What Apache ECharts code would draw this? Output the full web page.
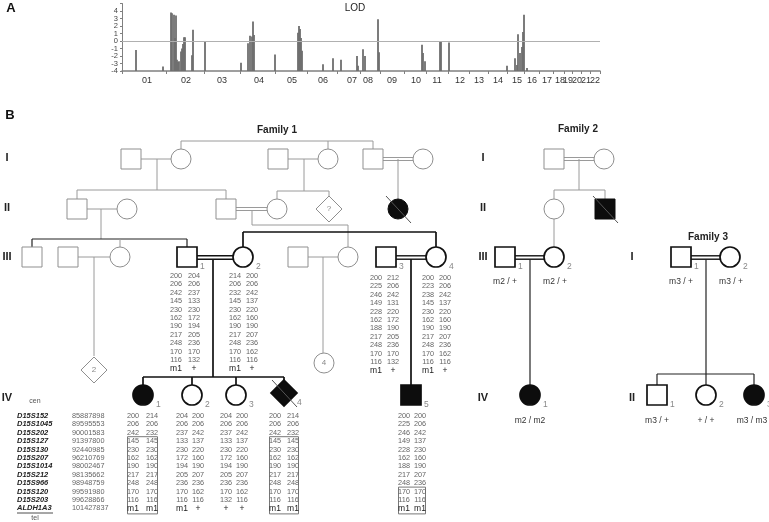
<!DOCTYPE html>
<html><head><meta charset="utf-8">
<script src="https://cdn.jsdelivr.net/npm/echarts@6/dist/echarts.min.js"></script>
<style>html,body{margin:0;padding:0;background:#fff}#c{width:769px;height:522px}</style>
</head><body><div id="c"></div>
<script>
// ---------- Panel A data: genome-wide LOD ----------
const chromLabels = ['01','02','03','04','05','06','07','08','09','10','11','12','13','14','15','16','17','18','19','20','21','22'];
const chromLabelPos = [25,64,100,137,170,201,230,246,270,294,315,338,357,376,395,410,425,438,446,455,464,473];
const chromBounds = [0,44,82,118,153,185,215,238,258,282,304,326,347,366,385,402,417,431,442,450,459,468,478];
const lodTicks = [-4,-3,-2,-1,0,1,2,3,4];
const lodPos = [14,41,49,50,52,53,54,55,56,57,59,60,61,62,63,70,71,83,119,126,128,130,131,132,153,176,177,178,179,180,201,211,219,235,236,241,243,256,257,300,301,303,318,319,327,385,393,395,396,398,400,401,402,405];
const lodVal = [-1.2,-3.4,3.8,3.7,3.5,0.4,3.4,-2.5,-2.8,-2.7,-1.4,-1.0,-0.4,0.5,0.5,-1.9,1.5,0.0,-2.9,-0.3,0.7,0.6,2.6,0.8,-1.8,1.1,2.0,1.6,0.4,-1.3,-3.1,-2.3,-2.5,-2.0,-3.3,-1.1,-2.0,2.9,-1.5,-0.5,-1.6,-2.7,-0.1,0.0,-0.2,-3.3,-2.3,-3.2,0.9,-1.6,-0.8,1.2,3.5,-3.6];

// ---------- Panel B data: markers and haplotypes ----------
const markers = ['D15S152','D15S1045','D15S202','D15S127','D15S130','D15S207','D15S1014','D15S212','D15S966','D15S120','D15S203','ALDH1A3'];
const markerBp = ['85887898','89595553','90001583','91397800','92440985','96210769','98002467','98135662','98948759','99591980','99628866','101427837'];
const hapF1_III1 = [['200','206','242','145','230','162','190','217','248','170','116','m1'],['204','206','237','133','230','172','194','205','236','170','132','+']];
const hapF1_III2 = [['214','206','232','145','230','162','190','217','248','170','116','m1'],['200','206','242','137','220','160','190','207','236','162','116','+']];
const hapF1_III3 = [['200','225','246','149','228','162','188','217','248','170','116','m1'],['212','206','242','131','220','172','190','205','236','170','132','+']];
const hapF1_III4 = [['200','223','238','145','230','162','190','217','248','170','116','m1'],['200','206','242','137','220','160','190','207','236','162','116','+']];
const hapF1_IV1 = [['200','206','242','145','230','162','190','217','248','170','116','m1'],['214','206','232','145','230','162','190','217','248','170','116','m1']];
const hapF1_IV2 = [['204','206','237','133','230','172','194','205','236','170','116','m1'],['200','206','242','137','220','160','190','207','236','162','116','+']];
const hapF1_IV3 = [['204','206','237','133','230','172','194','205','236','170','132','+'],['200','206','242','137','220','160','190','207','236','162','116','+']];
const hapF1_IV4 = [['200','206','242','145','230','162','190','217','248','170','116','m1'],['214','206','232','145','230','162','190','217','248','170','116','m1']];
const hapF1_IV5 = [['200','225','246','149','228','162','188','217','248','170','116','m1'],['200','206','242','137','230','160','190','207','236','170','116','m1']];
const genoF2 = ['m2 / +','m2 / +','m2 / m2'];
const genoF3 = ['m3 / +','m3 / +','m3 / +','+ / +','m3 / m3'];

// ---------- Pedigree layout (diagram coordinates) ----------
const persons = [
 {x:131,y:159,s:'sq'},{x:181,y:159,s:'ci'},{x:278,y:159,s:'sq'},{x:328,y:159,s:'ci'},{x:373,y:159,s:'sq'},{x:423,y:159,s:'ci'},
 {x:77,y:209,s:'sq'},{x:127,y:209,s:'ci'},{x:226,y:209,s:'sq'},{x:277,y:209,s:'ci'},{x:329,y:209,s:'di',t:'?'},{x:398,y:209,s:'ci',f:1,d:1},
 {x:32,y:257,s:'sq'},{x:68,y:257,s:'sq'},{x:120,y:257,s:'ci'},{x:187,y:257,s:'sq',b:1,n:'1'},{x:243,y:257,s:'ci',b:1,n:'2'},
 {x:298,y:257,s:'sq'},{x:348,y:257,s:'ci'},{x:386,y:257,s:'sq',b:1,n:'3'},{x:436,y:257,s:'ci',b:1,n:'4'},
 {x:94,y:370,s:'di',t:'2'},{x:324,y:363,s:'ci',t:'4'},
 {x:143,y:395,s:'ci',f:1,b:1,n:'1'},{x:192,y:395,s:'ci',b:1,n:'2'},{x:236,y:395,s:'ci',b:1,n:'3'},{x:284,y:393,s:'di',f:1,b:1,d:1,n:'4'},{x:411,y:395,s:'sq',f:1,b:1,n:'5'},
 {x:554,y:159,s:'sq'},{x:604,y:159,s:'ci'},{x:554,y:209,s:'ci'},{x:605,y:209,s:'sq',f:1,d:1},
 {x:505,y:257,s:'sq',b:1,n:'1'},{x:554,y:257,s:'ci',b:1,n:'2'},{x:530,y:395,s:'ci',f:1,b:1,n:'1'},
 {x:681,y:257,s:'sq',b:1,n:'1'},{x:730,y:257,s:'ci',b:1,n:'2'},
 {x:657,y:395,s:'sq',b:1,n:'1'},{x:706,y:395,s:'ci',b:1,n:'2'},{x:754,y:395,s:'ci',f:1,b:1,n:'3'}
];
const pedLines = [
 [181,141,373,141,'g'],[181,141,181,149,'g'],[328,141,328,149,'g'],[373,141,373,149,'g'],
 [141,159,171,159,'g'],[157,159,157,190,'g'],[288,159,318,159,'g'],[304,159,304,191,'g'],
 [383,159,413,159,'G'],[398,159,398,199,'g'],
 [77,190,226,190,'g'],[77,190,77,199,'g'],[226,190,226,199,'g'],
 [277,191,329,191,'g'],[277,191,277,199,'g'],[329,191,329,196,'g'],
 [87,209,117,209,'g'],[101,209,101,239,'g'],
 [236,209,267,209,'G'],[252,210,252,225,'g'],[252,225,348,225,'g'],[348,225,348,247,'g'],
 [32,239,187,239,'m'],[32,239,32,247,'m'],[120,239,120,247,'g'],[187,239,187,247,'m'],
 [78,257,110,257,'g'],[94,257,94,356,'g'],
 [197,257.5,233,257.5,'K'],[213,259,213,377,'k'],
 [243,232,436,232,'k'],[243,232,243,247,'k'],[436,232,436,247,'k'],
 [308,257,338,257,'g'],[323,257,323,353,'g'],
 [396,257.5,426,257.5,'K'],[411,259,411,385,'k'],
 [143,377,284,377,'k'],[143,377,143,385,'k'],[192,377,192,385,'k'],[236,377,236,385,'k'],[284,377,284,380,'k'],
 [564,159,594,159,'G'],[579,159,579,190,'g'],[554,190,605,190,'g'],[554,190,554,199,'g'],[605,190,605,199,'g'],
 [554,219,554,247,'g'],
 [515,257.5,544,257.5,'K'],[530,259,530,385,'m'],
 [691,257.5,720,257.5,'K'],[706,259,706,374,'m'],[657,374,754,374,'m'],[657,374,657,385,'m'],[706,374,706,385,'m'],[754,374,754,385,'m'],
 [17,513,53,513,'u']
];
const ROW = 8.4;
const hapBlocks = [
 {h:hapF1_III1, x:[176,194], y0:276},
 {h:hapF1_III2, x:[235,252], y0:276},
 {h:hapF1_III3, x:[376,393], y0:278},
 {h:hapF1_III4, x:[428,445], y0:278},
 {h:hapF1_IV1, x:[133,152], y0:416, box:3},
 {h:hapF1_IV2, x:[182,198], y0:416},
 {h:hapF1_IV3, x:[226,242], y0:416},
 {h:hapF1_IV4, x:[275,293], y0:416, box:3},
 {h:hapF1_IV5, x:[404,420], y0:416, box:9}
];

const FF = '"Liberation Sans", Arial, sans-serif';
const textStyles = {
 panel:{font:'bold 13px '+FF, fill:'#111', align:'center'},
 lod:{font:'10px '+FF, fill:'#222', align:'center'},
 fam:{font:'bold 10px '+FF, fill:'#222', align:'center'},
 gen:{font:'bold 11px '+FF, fill:'#222', align:'center'},
 hap:{font:'7.3px '+FF, fill:'#666', align:'center'},
 hm:{font:'8.5px '+FF, fill:'#222', align:'center'},
 mk:{font:'italic bold 7.5px '+FF, fill:'#222', align:'left'},
 bp:{font:'7.3px '+FF, fill:'#666', align:'left'},
 geno:{font:'8.5px '+FF, fill:'#333', align:'center'},
 ends:{font:'7px '+FF, fill:'#555', align:'center'}
};
const texts = [];
function addText(x,y,t,st){ texts.push([x,y,t,st]); }
addText(11,8,'A','panel'); addText(10,115,'B','panel');
addText(355,8,'LOD','lod');
addText(277,130,'Family 1','fam'); addText(578,129,'Family 2','fam'); addText(708,237,'Family 3','fam');
[['I',158],['II',208],['III',257],['IV',398]].forEach(g=>{ addText(7,g[1],g[0],'gen'); addText(483,g[1],g[0],'gen'); });
addText(632,257,'I','gen'); addText(632,398,'II','gen');
const boxes = [];
hapBlocks.forEach(b=>{
  for(let r=0;r<12;r++){
    for(let c=0;c<2;c++) addText(b.x[c], b.y0+r*ROW, b.h[c][r], r<11?'hap':'hm');
  }
  if(b.box!==undefined) boxes.push([b.x[0]-5.5, b.y0+b.box*ROW-4.5, b.x[1]+5.5, b.y0+11*ROW+5.5]);
});
markers.forEach((m,r)=>{ addText(17,416+r*ROW,m,'mk'); addText(72,416+r*ROW,markerBp[r],'bp'); });
addText(35,401,'cen','ends'); addText(35,518,'tel','ends');
addText(505,282,genoF2[0],'geno'); addText(555,282,genoF2[1],'geno'); addText(530,421,genoF2[2],'geno');
addText(681,282,genoF3[0],'geno'); addText(731,282,genoF3[1],'geno');
addText(657,421,genoF3[2],'geno'); addText(706,421,genoF3[3],'geno'); addText(752,421,genoF3[4],'geno');

const chart = echarts.init(document.getElementById('c'), null, {renderer:'canvas'});
const option = {
 animation:false,
 backgroundColor:'#fff',
 grid:[
  {left:122, right:169, top:3.5, bottom:451, outerBoundsMode:'none', containLabel:false},
  {left:0, right:0, top:0, bottom:0, outerBoundsMode:'none', containLabel:false}
 ],
 xAxis:[
  {gridIndex:0, type:'value', min:0, max:478,
   axisLine:{show:true, onZero:false, lineStyle:{color:'#808080', width:1.5}},
   axisTick:{show:true, customValues:chromBounds, length:3, lineStyle:{color:'#808080'}},
   axisLabel:{show:false},
   splitLine:{show:false}},
  {gridIndex:1, type:'value', min:0, max:769, show:false}
 ],
 yAxis:[
  {gridIndex:0, type:'value', min:-4, max:5, interval:1,
   axisLine:{show:true, lineStyle:{color:'#808080'}},
   axisTick:{show:true, length:2, lineStyle:{color:'#808080'}},
   axisLabel:{show:false},
   splitLine:{show:false}},
  {gridIndex:1, type:'value', min:0, max:522, inverse:true, show:false}
 ],
 series:[
  {type:'custom', xAxisIndex:0, yAxisIndex:0, coordinateSystem:'cartesian2d',
   data: lodPos.map((p,i)=>[p, lodVal[i]]),
   renderItem:(params, api)=>{
     const b = api.coord([api.value(0), -4]); const t = api.coord([api.value(0), api.value(1)]);
     return {type:'rect', shape:{x:b[0]-0.9, y:t[1], width:1.8, height:b[1]-t[1]}, style:{fill:'#6e6e6e'}};
   },
   markLine:{silent:true, symbol:'none', label:{show:false}, lineStyle:{color:'#b0b0b0', width:1, type:'solid'}, data:[{yAxis:0}]}
  },
  // chromosome labels under the LOD axis, positioned by the x scale
  {type:'custom', xAxisIndex:0, yAxisIndex:0, coordinateSystem:'cartesian2d', clip:false,
   data: chromLabelPos.map((p,i)=>[p, -4, i]),
   renderItem:(params, api)=>{
     const c = api.coord([api.value(0), api.value(1)]);
     return {type:'text', style:{x:c[0], y:c[1]+10, text:chromLabels[api.value(2)], font:'9px '+FF, fill:'#333', align:'center', verticalAlign:'middle', textAlign:'center', textVerticalAlign:'middle'}};
   }
  },
  // LOD tick labels on the y scale
  {type:'custom', xAxisIndex:0, yAxisIndex:0, coordinateSystem:'cartesian2d', clip:false,
   data: lodTicks.map(v=>[0, v]),
   renderItem:(params, api)=>{
     const c = api.coord([api.value(0), api.value(1)]);
     return {type:'text', style:{x:c[0]-4, y:c[1], text:String(api.value(1)), font:'7.5px '+FF, fill:'#444', align:'right', verticalAlign:'middle', textAlign:'right', textVerticalAlign:'middle'}};
   }
  },
  {type:'custom', xAxisIndex:1, yAxisIndex:1, coordinateSystem:'cartesian2d', z:3,
   data: pedLines.map((l,i)=>[l[0],l[1],l[2],l[3],i]),
   renderItem:(params, api)=>{
     const l = pedLines[api.value(4)];
     const a = api.coord([api.value(0), api.value(1)]), b = api.coord([api.value(2), api.value(3)]);
     const k = l[4];
     if(k==='G' || k==='K'){
       const col = k==='K' ? '#111' : '#9a9a9a', w = k==='K' ? 1.4 : 1, o = k==='K' ? 1.7 : 1.5;
       return {type:'group', children:[
         {type:'line', shape:{x1:a[0],y1:a[1]-o,x2:b[0],y2:b[1]-o}, style:{stroke:col, lineWidth:w}},
         {type:'line', shape:{x1:a[0],y1:a[1]+o,x2:b[0],y2:b[1]+o}, style:{stroke:col, lineWidth:w}}
       ]};
     }
     const st = {g:['#9a9a9a',1], k:['#111',1.7], m:['#222',1.2], u:['#222',0.8]}[k];
     return {type:'line', shape:{x1:a[0],y1:a[1],x2:b[0],y2:b[1]}, style:{stroke:st[0], lineWidth:st[1]}};
   }
  },
  {type:'custom', xAxisIndex:1, yAxisIndex:1, coordinateSystem:'cartesian2d', z:4,
   data: boxes.map((b,i)=>[b[0],b[1],b[2],b[3]]),
   renderItem:(params, api)=>{
     const a = api.coord([api.value(0), api.value(1)]), b = api.coord([api.value(2), api.value(3)]);
     return {type:'rect', shape:{x:a[0], y:a[1], width:b[0]-a[0], height:b[1]-a[1]}, style:{fill:'none', stroke:'#777', lineWidth:1}};
   }
  },
  {type:'custom', xAxisIndex:1, yAxisIndex:1, coordinateSystem:'cartesian2d', z:5,
   data: persons.map((p,i)=>[p.x,p.y,i]),
   renderItem:(params, api)=>{
     const p = persons[api.value(2)];
     const c = api.coord([api.value(0), api.value(1)]);
     const h = 10;
     const stroke = p.b ? '#111' : '#8f8f8f';
     const lw = p.b ? 1.7 : 1;
     const fill = p.f ? '#0d0d0d' : '#fff';
     const ch = [];
     if(p.s==='sq') ch.push({type:'rect', shape:{x:c[0]-h, y:c[1]-h, width:2*h, height:2*h}, style:{fill:fill, stroke:p.f?'#0d0d0d':stroke, lineWidth:lw}});
     else if(p.s==='ci') ch.push({type:'circle', shape:{cx:c[0], cy:c[1], r:h}, style:{fill:fill, stroke:p.f?'#0d0d0d':stroke, lineWidth:lw}});
     else { const d = 13; ch.push({type:'polygon', shape:{points:[[c[0],c[1]-d],[c[0]+d,c[1]],[c[0],c[1]+d],[c[0]-d,c[1]]]}, style:{fill:fill, stroke:p.f?'#0d0d0d':stroke, lineWidth:lw}}); }
     if(p.d) ch.push({type:'line', shape:{x1:c[0]-12, y1:c[1]-13, x2:c[0]+13, y2:c[1]+14}, style:{stroke:'#555', lineWidth:1}});
     if(p.t) ch.push({type:'text', style:{x:c[0], y:c[1], text:p.t, font:'8px '+FF, fill:'#888', align:'center', verticalAlign:'middle', textAlign:'center', textVerticalAlign:'middle'}});
     if(p.n) ch.push({type:'text', style:{x:c[0]+13, y:c[1]+10, text:p.n, font:'8.5px '+FF, fill:'#888', align:'left', verticalAlign:'middle', textAlign:'left', textVerticalAlign:'middle'}});
     return {type:'group', children:ch};
   }
  },
  {type:'custom', xAxisIndex:1, yAxisIndex:1, coordinateSystem:'cartesian2d', z:6,
   data: texts.map((t,i)=>[t[0],t[1],i]),
   renderItem:(params, api)=>{
     const t = texts[api.value(2)];
     const c = api.coord([api.value(0), api.value(1)]);
     const s = textStyles[t[3]];
     return {type:'text', style:{x:c[0], y:c[1], text:t[2], font:s.font, fill:s.fill, align:s.align, verticalAlign:'middle', textAlign:s.align, textVerticalAlign:'middle'}};
   }
  }
 ]
};
chart.setOption(option);
</script></body></html>
